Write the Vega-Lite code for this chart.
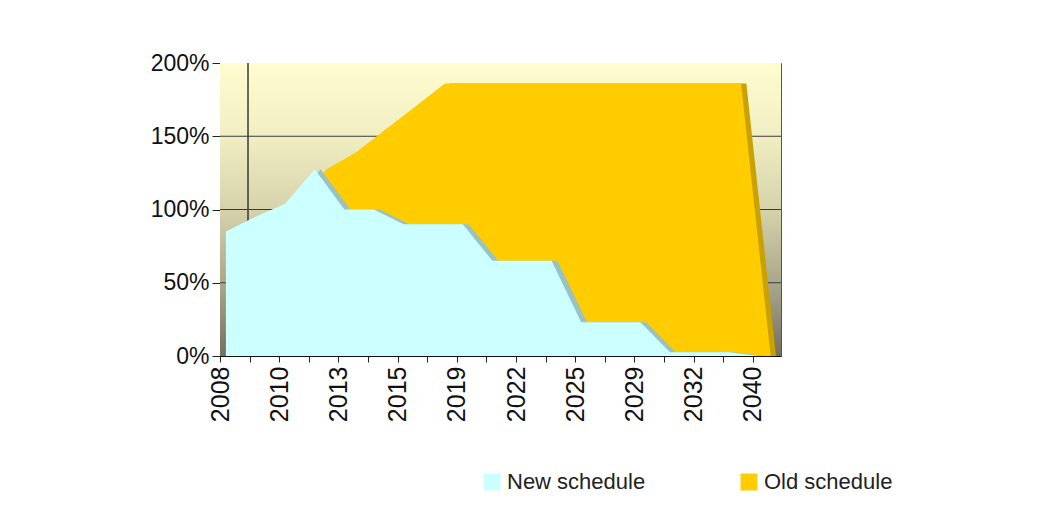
{
  "$schema": "https://vega.github.io/schema/vega-lite/v6.json",
  "width": 561,
  "height": 293,
  "autosize": "none",
  "padding": {"left": 220, "top": 63, "right": 273, "bottom": 171},
  "background": "white",
  "config": {"view": {"stroke": "#555555", "strokeWidth": 1}, "font": "Liberation Sans"},
  "datasets": {
    "sched": [
      {"i": 0, "series": "New schedule", "v": 0.85},
      {"i": 1, "series": "New schedule", "v": 0.95},
      {"i": 2, "series": "New schedule", "v": 1.04},
      {"i": 3, "series": "New schedule", "v": 1.275},
      {"i": 4, "series": "New schedule", "v": 1.0},
      {"i": 5, "series": "New schedule", "v": 1.0},
      {"i": 6, "series": "New schedule", "v": 0.9},
      {"i": 7, "series": "New schedule", "v": 0.9},
      {"i": 8, "series": "New schedule", "v": 0.9},
      {"i": 9, "series": "New schedule", "v": 0.65},
      {"i": 10, "series": "New schedule", "v": 0.65},
      {"i": 11, "series": "New schedule", "v": 0.65},
      {"i": 12, "series": "New schedule", "v": 0.23},
      {"i": 13, "series": "New schedule", "v": 0.23},
      {"i": 14, "series": "New schedule", "v": 0.23},
      {"i": 15, "series": "New schedule", "v": 0.025},
      {"i": 16, "series": "New schedule", "v": 0.025},
      {"i": 17, "series": "New schedule", "v": 0.025},
      {"i": 18, "series": "New schedule", "v": 0.0},
      {"i": 0, "series": "Old schedule", "v": 0.85},
      {"i": 1, "series": "Old schedule", "v": 0.95},
      {"i": 2, "series": "Old schedule", "v": 1.04},
      {"i": 3, "series": "Old schedule", "v": 1.275},
      {"i": 4, "series": "Old schedule", "v": 1.39},
      {"i": 5, "series": "Old schedule", "v": 1.547},
      {"i": 6, "series": "Old schedule", "v": 1.703},
      {"i": 7, "series": "Old schedule", "v": 1.86},
      {"i": 8, "series": "Old schedule", "v": 1.86},
      {"i": 9, "series": "Old schedule", "v": 1.86},
      {"i": 10, "series": "Old schedule", "v": 1.86},
      {"i": 11, "series": "Old schedule", "v": 1.86},
      {"i": 12, "series": "Old schedule", "v": 1.86},
      {"i": 13, "series": "Old schedule", "v": 1.86},
      {"i": 14, "series": "Old schedule", "v": 1.86},
      {"i": 15, "series": "Old schedule", "v": 1.86},
      {"i": 16, "series": "Old schedule", "v": 1.86},
      {"i": 17, "series": "Old schedule", "v": 1.86},
      {"i": 18, "series": "Old schedule", "v": 0.0}
    ],
    "grid": [{"g": 0.5}, {"g": 1.0}, {"g": 1.5}]
  },
  "layer": [
    {
      "data": {"values": [{}]},
      "mark": {
        "type": "rect",
        "color": {
          "gradient": "linear", "x1": 0, "y1": 0, "x2": 0, "y2": 1,
          "stops": [
            {"offset": 0, "color": "#FFFDD0"},
            {"offset": 0.25, "color": "#F1EEC3"},
            {"offset": 0.5, "color": "#D6D2AB"},
            {"offset": 0.75, "color": "#AAA88B"},
            {"offset": 1, "color": "#72705F"}
          ]
        }
      },
      "encoding": {
        "x": {
          "datum": 0, "type": "quantitative",
          "scale": {"domain": [0, 18.95], "nice": false, "zero": false},
          "axis": {
            "values": [0,1,2,3,4,5,6,7,8,9,10,11,12,13,14,15,16,17,18],
            "labelExpr": "['2008','','2010','','2013','','2015','','2019','','2022','','2025','','2029','','2032','','2040'][datum.value]",
            "labelAngle": -90, "labelFontSize": 25, "labelColor": "#111111", "labelFont": "Liberation Sans",
            "labelPadding": 4, "tickSize": 6, "tickColor": "#222222", "domainColor": "#111111",
            "grid": false, "title": null, "labelOverlap": false, "labelBound": false, "labelFlush": false
          }
        },
        "x2": {"datum": 18.95},
        "y": {
          "datum": 0, "type": "quantitative",
          "scale": {"domain": [0, 2], "nice": false},
          "axis": {
            "values": [0, 0.5, 1, 1.5, 2], "format": ".0%",
            "labelFontSize": 23, "labelColor": "#111111", "labelFont": "Liberation Sans",
            "labelPadding": 3, "tickSize": 8, "tickColor": "#222222", "domainColor": "#111111",
            "grid": false, "title": null
          }
        },
        "y2": {"datum": 2}
      }
    },
    {
      "data": {"name": "grid"},
      "mark": {"type": "rule", "color": "#3A3A3A", "strokeWidth": 1},
      "encoding": {"y": {"field": "g", "type": "quantitative", "title": null}}
    },
    {
      "data": {"values": [{}]},
      "mark": {"type": "rule", "color": "#3A3A3A", "strokeWidth": 1.5},
      "encoding": {
        "x": {"datum": 0.946, "type": "quantitative", "scale": {"domain": [0, 18.95], "nice": false, "zero": false}, "axis": null}
      }
    },
    {
      "data": {"name": "sched"},
      "transform": [{"filter": "datum.series === 'Old schedule'"}],
      "mark": {"type": "area", "color": "#C9A200", "opacity": 1},
      "encoding": {
        "x": {"field": "i", "type": "quantitative", "scale": {"domain": [-0.78, 18.17], "nice": false, "zero": false}, "axis": null},
        "y": {"field": "v", "type": "quantitative", "title": null}
      }
    },
    {
      "data": {"name": "sched"},
      "transform": [{"filter": "datum.series === 'Old schedule'"}],
      "mark": {"type": "area", "opacity": 1},
      "encoding": {
        "x": {"field": "i", "type": "quantitative", "scale": {"domain": [-0.6, 18.35], "nice": false, "zero": false}, "axis": null},
        "y": {"field": "v", "type": "quantitative", "title": null},
        "color": {
          "field": "series", "type": "nominal",
          "scale": {"domain": ["New schedule", "Old schedule"], "range": ["#CCFFFF", "#FFCC00"]},
          "legend": {
            "orient": "none", "legendX": 261, "legendY": 408, "direction": "horizontal", "title": null,
            "symbolType": "square", "symbolSize": 289, "symbolStrokeWidth": 0, "symbolOpacity": 1,
            "labelFontSize": 22, "labelFont": "Liberation Sans", "labelColor": "#222222",
            "labelOffset": 4, "columnPadding": 92, "padding": 0
          }
        }
      }
    },
    {
      "data": {"name": "sched"},
      "transform": [{"filter": "datum.series === 'New schedule'"}],
      "mark": {"type": "area", "color": "#99C2C2", "opacity": 1},
      "encoding": {
        "x": {"field": "i", "type": "quantitative", "scale": {"domain": [-0.4, 18.55], "nice": false, "zero": false}, "axis": null},
        "y": {"field": "v", "type": "quantitative", "title": null}
      }
    },
    {
      "data": {"name": "sched"},
      "transform": [{"filter": "datum.series === 'New schedule'"}],
      "mark": {"type": "area", "opacity": 1},
      "encoding": {
        "x": {"field": "i", "type": "quantitative", "scale": {"domain": [-0.2, 18.75], "nice": false, "zero": false}, "axis": null},
        "y": {"field": "v", "type": "quantitative", "title": null},
        "color": {
          "field": "series", "type": "nominal",
          "scale": {"domain": ["New schedule", "Old schedule"], "range": ["#CCFFFF", "#FFCC00"]}
        }
      }
    }
  ],
  "resolve": {"scale": {"x": "independent"}}
}
